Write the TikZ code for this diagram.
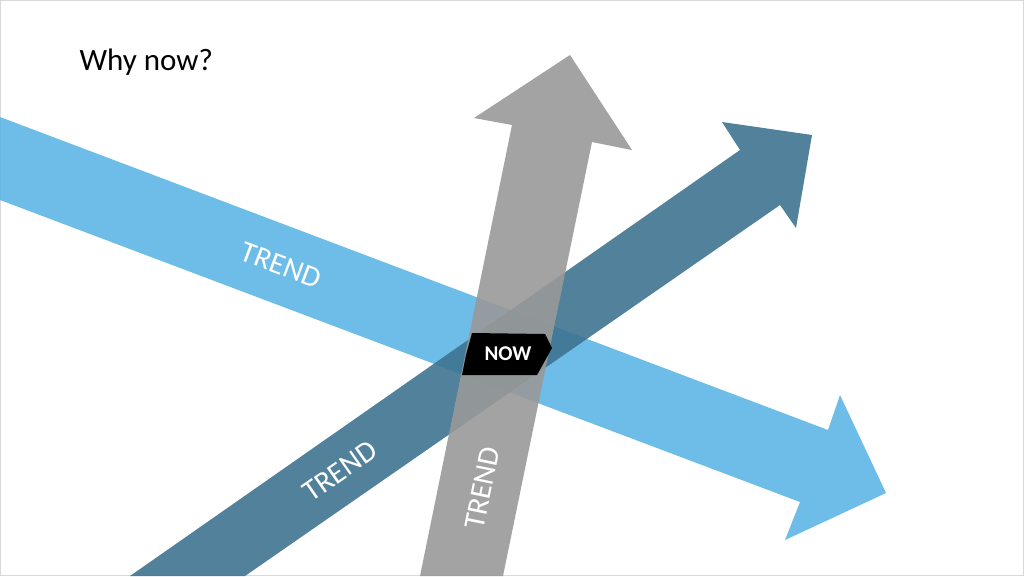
\documentclass[tikz,border=0pt]{standalone}
\usepackage{fontspec}
\setmainfont{Carlito}
\definecolor{lb}{HTML}{5DB6E6}
\definecolor{db}{HTML}{3F7391}
\definecolor{gr}{HTML}{999999}
\begin{document}
\begin{tikzpicture}[x=1pt,y=-1pt,
  arr/.style={fill opacity=0.9,draw=none},
  lbl/.style={text=white,font=\fontsize{30}{34}\selectfont}]
\useasboundingbox (0,0) rectangle (1024,576);
\draw[black!15] (0.5,0.5) rectangle (1023.5,575.5);
\node[anchor=west,font=\fontsize{31}{36}\selectfont] (title) at (76,62) {Why now?};
\fill[lb,arr] (0,117) -- (828,430) -- (840,395) -- (886,493) -- (785,540) -- (800,502) -- (0,200) -- cycle;
\fill[db,arr] (130,576) -- (740,150) -- (722,122) -- (812,135) -- (796,228) -- (780,205) -- (245,576) -- cycle;
\fill[gr,arr] (420,576) -- (512,125) -- (474,118) -- (570,55) -- (632,150) -- (592,142) -- (503,576) -- cycle;
\fill[black] (472,333) -- (545,334) -- (552,348) -- (537,375) -- (462,375) -- (466,355) -- cycle;
\node[text=white,font=\bfseries\fontsize{21}{24}\selectfont] (now) at (508,354) {NOW};
\node[lbl,rotate=-20.7] (t1) at (281,265) {TREND};
\node[lbl,rotate=35] (t2) at (340,471) {TREND};
\node[lbl,rotate=78.5] (t3) at (482,488) {TREND};
\end{tikzpicture}
\end{document}
